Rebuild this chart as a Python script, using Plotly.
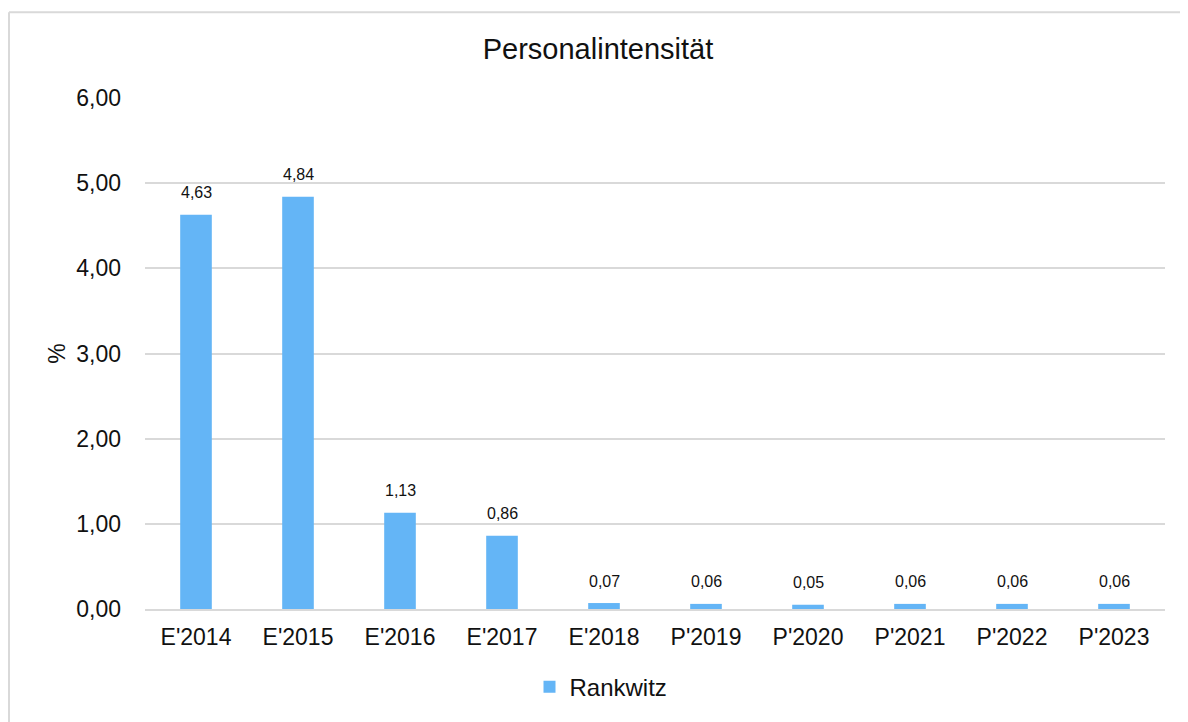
import plotly.graph_objects as go

categories = ["E'2014", "E'2015", "E'2016", "E'2017", "E'2018",
              "P'2019", "P'2020", "P'2021", "P'2022", "P'2023"]
values = [4.63, 4.84, 1.13, 0.86, 0.07, 0.06, 0.05, 0.06, 0.06, 0.06]
series_name = "Rankwitz"
title_text = "Personalintensität"
y_title = "%"
y_ticks = [0, 1, 2, 3, 4, 5, 6]

OFF_X, OFF_Y = 8, 7  # page body margin
W, H = 1180, 714
L, T = 145 - OFF_X, 97 - OFF_Y
pw, ph = 1020, 516
R, B = W - L - pw, H - T - ph

def px(sx):
    return (sx - OFF_X - L) / pw

def py(sy):
    return (T + ph - (sy - OFF_Y)) / ph

fig = go.Figure()
fig.add_trace(go.Bar(
    x=categories, y=values, name=series_name,
    marker=dict(color="#64B5F6", line=dict(width=0)),
))

annotations = [
    dict(x=c, y=v, xref="x", yref="y", text=f"{v:.2f}".replace(".", ","),
         showarrow=False, yanchor="middle", yshift=22,
         font=dict(size=16, color="#111111", family="Liberation Sans"))
    for c, v in zip(categories, values)
]

fig.update_layout(
    width=W, height=H,
    margin=dict(l=L, r=R, t=T, b=B),
    paper_bgcolor="white", plot_bgcolor="white",
    font=dict(family="Liberation Sans", color="#111111"),
    separators=",.",
    bargap=0.69,
    title=dict(text=title_text, x=0.5, xanchor="center", y=1 - (48 - OFF_Y) / H, yanchor="middle",
               font=dict(size=29, color="#111111")),
    showlegend=True,
    legend=dict(orientation="h", x=px(601), xanchor="center", y=py(692), yanchor="middle",
                font=dict(size=24, color="#111111"), itemwidth=30,
                bgcolor="rgba(0,0,0,0)"),
    xaxis=dict(showgrid=False, showline=True, linecolor="#D9D9D9", linewidth=1.5,
               ticks="", tickfont=dict(size=23, color="#111111"), ticklabelstandoff=7),
    yaxis=dict(range=[0, 6], tickvals=y_ticks, tickformat=".2f",
               showgrid=True, gridcolor="#D9D9D9", gridwidth=1.5,
               zeroline=False, showline=False, ticks="",
               tickfont=dict(size=23, color="#111111"), ticklabelstandoff=23,
               title=dict(text=y_title, font=dict(size=23, color="#111111"), standoff=4)),
    annotations=annotations,
    shapes=[
        dict(type="line", xref="paper", yref="paper", x0=px(9), x1=px(1200), y0=py(10.5), y1=py(10.5),
             line=dict(color="#D9D9D9", width=2)),
        dict(type="line", xref="paper", yref="paper", x0=px(9), x1=px(9), y0=py(10.5), y1=py(740),
             line=dict(color="#D9D9D9", width=2)),
    ],
)

fig.write_html("out.html")
